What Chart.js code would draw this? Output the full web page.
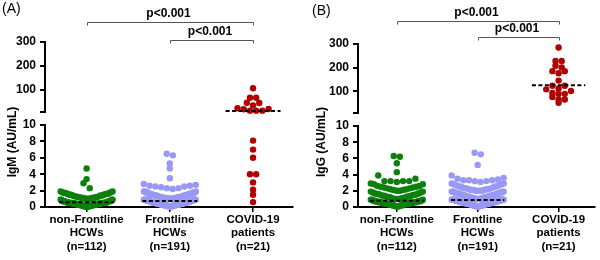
<!DOCTYPE html>
<html>
<head>
<meta charset="utf-8">
<script src="https://cdn.jsdelivr.net/npm/chart.js@4.4.0/dist/chart.umd.min.js"></script>
<style>
  body { margin: 0; background: #fff; width: 600px; height: 260px; overflow: hidden; position: relative; font-family: "Liberation Sans", Arial, sans-serif; }
  canvas { position: absolute; top: 0; }
  #chartA { left: 0; }
  #chartB { left: 300px; }
  .tag { position: absolute; font-size: 14px; color: #000; }
</style>
</head>
<body>
<canvas id="chartA" width="300" height="260"></canvas>
<canvas id="chartB" width="300" height="260"></canvas>
<div class="tag" style="left:2px; top:0px">(A)</div>
<div class="tag" style="left:312px; top:2px">(B)</div>
<script>
const groupLabels = [
    ['non-Frontline', 'HCWs', '(n=112)'],
    ['Frontline', 'HCWs', '(n=191)'],
    ['COVID-19', 'patients', '(n=21)']
];
const lowTicks = [0, 2, 4, 6, 8, 10];
const highTicks = [10, 100, 200, 300]; // 10 is the break, left unlabelled
const breakAt = 10;
const colors = ['#0c800c', '#9999f5', '#b00000'];
const pLabel = 'p<0.001';
const brackets = [[0, 2], [1, 2]];

// IgM, panel (A)
const igmNonFrontline = [
    0.1, 0.1, 0.1, 0.1, 0.1, 0.1, 0.1, 0.1, 0.1, 0.1,
    0.2, 0.2, 0.2, 0.2, 0.2, 0.2, 0.2, 0.2, 0.2, 0.2,
    0.3, 0.3, 0.3, 0.3, 0.3, 0.3, 0.3, 0.3, 0.3, 0.3,
    0.4, 0.4, 0.4, 0.4, 0.4, 0.4, 0.4, 0.4, 0.4, 0.4, 0.4, 0.4,
    0.5, 0.5, 0.5, 0.5, 0.5, 0.5, 0.5, 0.5, 0.5, 0.5, 0.5, 0.5, 0.5, 0.5,
    0.6, 0.6, 0.6, 0.6, 0.6, 0.6, 0.6,
    0.7, 0.7, 0.7, 0.7, 0.7, 0.7,
    0.8, 0.8, 0.8, 0.8, 0.9, 0.9, 0.9, 0.9,
    1.0, 1.0, 1.0, 1.0, 1.1, 1.1, 1.1, 1.1, 1.2, 1.2, 1.2, 1.2,
    1.3, 1.3, 1.3, 1.4, 1.4, 1.4, 1.5, 1.5, 1.5, 1.6, 1.6, 1.6,
    1.7, 1.7, 1.7, 1.8, 1.8, 1.9, 1.9,
    2.3, 2.9, 3.4, 4.7
];
const igmFrontline = [
    0.1, 0.1, 0.1, 0.1, 0.1, 0.1, 0.1, 0.1, 0.1, 0.1, 0.1, 0.1,
    0.2, 0.2, 0.2, 0.2, 0.2, 0.2, 0.2, 0.2, 0.2, 0.2, 0.2, 0.2, 0.2, 0.2, 0.2, 0.2,
    0.3, 0.3, 0.3, 0.3, 0.3, 0.3, 0.3, 0.3, 0.3, 0.3, 0.3, 0.3, 0.3, 0.3, 0.3, 0.3,
    0.4, 0.4, 0.4, 0.4, 0.4, 0.4, 0.4, 0.4, 0.4, 0.4, 0.4, 0.4, 0.4, 0.4, 0.4, 0.4,
    0.5, 0.5, 0.5, 0.5, 0.5, 0.5, 0.5, 0.5, 0.5, 0.5, 0.5, 0.5, 0.5, 0.5, 0.5, 0.5,
    0.6, 0.6, 0.6, 0.6, 0.6, 0.6, 0.6, 0.6, 0.6, 0.6, 0.6, 0.6, 0.6, 0.6,
    0.7, 0.7, 0.7, 0.7, 0.7, 0.7,
    0.8, 0.8, 0.8, 0.8, 0.8, 0.8, 0.8, 0.8, 0.8, 0.8, 0.8, 0.8, 0.8,
    0.9, 0.9, 0.9, 0.9, 0.9, 0.9, 0.9, 0.9, 0.9, 0.9, 0.9, 0.9,
    1.0, 1.0, 1.0, 1.0, 1.0, 1.0, 1.0, 1.0, 1.1, 1.1, 1.1, 1.1, 1.1, 1.1, 1.1,
    1.2, 1.2, 1.2, 1.2, 1.2, 1.2, 1.2, 1.3, 1.3, 1.3, 1.3, 1.3, 1.3,
    1.4, 1.4, 1.4, 1.4, 1.4, 1.4, 1.5, 1.5, 1.5, 1.5, 1.5, 1.6, 1.6, 1.6, 1.6, 1.6,
    1.7, 1.7, 1.7, 1.7, 1.8, 1.8, 1.8, 1.8, 1.9, 1.9, 1.9,
    2.2, 2.3, 2.3, 2.4, 2.5, 2.5, 2.6, 2.6, 2.7, 2.8,
    3.5, 4.7, 5.3, 6.3, 6.5
];
const igmCovid = [0.6, 1.5, 2.1, 3.0, 4.0, 4.0, 6.0, 7.0, 8.1, 14, 14, 14, 20, 21, 24, 36, 46, 47, 68, 68, 107];
const igmMedians = [0.57, 0.73, 12];

// IgG, panel (B)
const iggNonFrontline = [
    0.1, 0.1, 0.1, 0.1, 0.1, 0.2, 0.2, 0.2, 0.2, 0.2, 0.2,
    0.3, 0.3, 0.3, 0.3, 0.3, 0.3, 0.3, 0.4, 0.4, 0.4, 0.4, 0.4, 0.4, 0.4,
    0.5, 0.5, 0.5, 0.5, 0.5, 0.5, 0.5, 0.5, 0.6, 0.6, 0.6, 0.6, 0.6, 0.6, 0.6, 0.6,
    0.7, 0.7, 0.7, 0.7, 0.7, 0.7, 0.7, 0.7, 0.8, 0.8, 0.8, 0.8, 0.9, 0.9, 0.9,
    1.0, 1.0, 1.0, 1.0, 1.1, 1.1, 1.1, 1.2, 1.2, 1.2, 1.3, 1.3, 1.3, 1.4, 1.4, 1.4,
    1.5, 1.5, 1.5, 1.6, 1.6, 1.6, 1.7, 1.7, 1.8, 1.8, 1.9, 1.9,
    2.0, 2.0, 2.1, 2.1, 2.2, 2.2, 2.3, 2.3, 2.4, 2.4, 2.5, 2.5, 2.6, 2.6, 2.8, 2.8, 2.9,
    3.1, 3.2, 3.2, 3.2, 3.2, 3.5, 3.9,
    4.3, 5.4, 6.2, 6.3
];
const iggFrontline = [
    0.1, 0.1, 0.1, 0.1, 0.1, 0.1, 0.1, 0.1,
    0.2, 0.2, 0.2, 0.2, 0.2, 0.2, 0.2, 0.2, 0.2, 0.2,
    0.3, 0.3, 0.3, 0.3, 0.3, 0.3, 0.3, 0.3, 0.3, 0.3,
    0.4, 0.4, 0.4, 0.4, 0.4, 0.4, 0.4, 0.4, 0.4, 0.4, 0.4,
    0.5, 0.5, 0.5, 0.5, 0.5, 0.5, 0.5, 0.5, 0.5, 0.5, 0.5,
    0.6, 0.6, 0.6, 0.6, 0.6, 0.6, 0.6, 0.6, 0.6, 0.6, 0.6,
    0.7, 0.7, 0.7, 0.7, 0.7, 0.7, 0.7, 0.7, 0.7, 0.7, 0.7,
    0.8, 0.8, 0.8, 0.8, 0.8, 0.8, 0.8, 0.8, 0.8, 0.8,
    0.9, 0.9, 0.9, 0.9, 0.9, 0.9, 0.9, 0.9, 0.9, 0.9, 0.9,
    1.0, 1.0, 1.0, 1.0, 1.0, 1.0, 1.0, 1.1, 1.1, 1.1, 1.1, 1.1, 1.1, 1.1,
    1.2, 1.2, 1.2, 1.2, 1.2, 1.2, 1.2, 1.3, 1.3, 1.3, 1.3, 1.3, 1.3,
    1.4, 1.4, 1.4, 1.4, 1.4, 1.4, 1.5, 1.5, 1.5, 1.5, 1.5, 1.5,
    1.6, 1.6, 1.6, 1.6, 1.6, 1.6, 1.7, 1.7, 1.7, 1.7, 1.7,
    1.8, 1.8, 1.8, 1.8, 1.8, 1.9, 1.9, 1.9, 1.9, 1.9,
    2.0, 2.0, 2.0, 2.0, 2.1, 2.1, 2.1, 2.2, 2.2, 2.2, 2.3, 2.3, 2.3,
    2.4, 2.4, 2.5, 2.5, 2.6, 2.6, 2.7, 2.7, 2.8, 2.8, 2.9, 2.9,
    3.1, 3.2, 3.2, 3.3, 3.3, 3.3, 3.4, 3.5, 3.6, 3.9,
    5.2, 6.5, 6.7
];
const iggCovid = [51, 65, 65, 76, 89, 89, 93, 101, 108, 112, 123, 123, 145, 176, 185, 185, 201, 208, 228, 228, 285];
const iggMedians = [0.77, 0.85, 125];

// beeswarm look
const dotGap = 6.2;
const maxHalf = 26;
const topRowPx = 6;

Chart.defaults.font.family = '"Liberation Sans", Arial, sans-serif';
Chart.defaults.color = '#000';

const annotate = {
    id: 'annotate',
    afterDraw(chart, args, o) {
        const { ctx } = chart;
        const x = chart.scales.x;
        ctx.save();
        ctx.fillStyle = '#000';
        ctx.font = 'bold 12px "Liberation Sans", Arial, sans-serif';
        ctx.textAlign = 'center';
        ctx.textBaseline = 'middle';
        ctx.save();
        ctx.translate(o.titleX, o.titleY);
        ctx.rotate(-Math.PI / 2);
        ctx.fillText(o.title, 0, 0);
        ctx.restore();

        ctx.strokeStyle = '#555';
        ctx.lineWidth = 1;
        brackets.forEach(([a, b], i) => {
            const x1 = Math.round(x.getPixelForValue(a)) + 0.5;
            const x2 = Math.round(x.getPixelForValue(b)) + 0.5;
            const y = o.bracketY[i];
            ctx.beginPath();
            ctx.moveTo(x1, y + 3);
            ctx.lineTo(x1, y);
            ctx.lineTo(x2, y);
            ctx.lineTo(x2, y + 3);
            ctx.stroke();
            ctx.fillText(pLabel, (x1 + x2) / 2 - 2, y - 9);
        });
        ctx.restore();
    }
};

function swarm(chart) {
    const xs = chart.scales.x;
    const unit = xs.getPixelForValue(1) - xs.getPixelForValue(0);
    chart.data.datasets.forEach(ds => {
        if (!ds.values) return;
        const sc = chart.scales[ds.yAxisID];
        const rows = {};
        [...ds.values].sort((a, b) => a - b).forEach(v => {
            const r = ds.yAxisID === 'yBot'
                ? Math.floor(v + 1e-6)
                : Math.floor((sc.bottom - sc.getPixelForValue(v)) / topRowPx);
            (rows[r] = rows[r] || []).push(v);
        });
        ds.data = [];
        Object.values(rows).forEach(row => {
            const n = row.length;
            const step = n > 1 ? Math.min(dotGap, 2 * maxHalf / (n - 1)) : 0;
            row.forEach((v, k) => {
                // lowest value in the middle, then right/left outwards
                const slot = n % 2
                    ? (k % 2 ? 1 : -1) * Math.ceil(k / 2)
                    : (k % 2 ? -1 : 1) * (Math.floor(k / 2) + 0.5);
                ds.data.push({ x: ds.group + slot * step / unit, y: v });
            });
        });
    });
    chart.update('none');
}

function makePanel(id, series, medians, title, box) {
    const datasets = [];
    series.forEach((vals, g) => {
        const parts = [['yBot', vals.filter(v => v < breakAt)], ['yTop', vals.filter(v => v >= breakAt)]];
        parts.forEach(([axis, v]) => {
            if (!v.length) return;
            datasets.push({
                type: 'scatter',
                group: g,
                values: v,
                yAxisID: axis,
                data: v.map(y => ({ x: g, y })),
                backgroundColor: colors[g],
                borderWidth: 0,
                pointRadius: 3.2,
                pointHoverRadius: 3.2,
                order: 2,
                clip: false
            });
        });
        const m = medians[g];
        datasets.push({
            type: 'line',
            yAxisID: m < breakAt ? 'yBot' : 'yTop',
            data: [{ x: g - 0.33, y: m }, { x: g + 0.33, y: m }],
            borderColor: '#000',
            borderWidth: 2,
            borderDash: [4, 2.5],
            pointRadius: 0,
            order: 1,
            clip: false
        });
    });

    const tickFont = { weight: 'bold', size: 12 };
    const yGrid = { drawOnChartArea: false, drawTicks: true, tickLength: 5, color: '#000', lineWidth: 2 };
    const yBorder = { color: '#000', width: 2 };

    const chart = new Chart(document.getElementById(id), {
        type: 'scatter',
        data: { datasets },
        options: {
            responsive: false,
            animation: false,
            devicePixelRatio: 1,
            layout: { padding: { top: box.top, right: box.right, left: 0, bottom: 0 } },
            plugins: {
                legend: { display: false },
                tooltip: { enabled: false },
                annotate: { title, titleX: box.titleX, titleY: 142, bracketY: box.bracketY }
            },
            scales: {
                x: {
                    type: 'linear',
                    min: box.xMin,
                    max: box.xMax,
                    afterFit: s => { s.height = 53; },
                    afterBuildTicks: s => { s.ticks = groupLabels.map((_, i) => ({ value: i })); },
                    ticks: {
                        callback: v => groupLabels[v],
                        color: '#000',
                        font: { weight: 'bold', size: 11.5, lineHeight: 1.17 },
                        padding: 1,
                        maxRotation: 0,
                        autoSkip: false
                    },
                    grid: { drawOnChartArea: false, drawTicks: true, tickLength: 5, color: '#000', lineWidth: 1.5 },
                    border: { color: '#000', width: 2 }
                },
                yTop: {
                    type: 'linear',
                    position: 'left',
                    stack: 'y',
                    weight: 3,
                    stackWeight: box.hTop,
                    min: breakAt,
                    max: 300,
                    afterFit: s => { s.width = box.left; },
                    afterBuildTicks: s => { s.ticks = highTicks.map(value => ({ value })); },
                    ticks: { callback: v => (v === breakAt ? '' : v), color: '#000', font: tickFont, padding: 4, autoSkip: false },
                    grid: yGrid,
                    border: yBorder
                },
                yGap: {
                    type: 'linear',
                    position: 'left',
                    stack: 'y',
                    weight: 2,
                    stackWeight: box.hGap,
                    min: 0,
                    max: 1,
                    afterFit: s => { s.width = box.left; },
                    ticks: { display: false },
                    grid: { display: false },
                    border: { display: false }
                },
                yBot: {
                    type: 'linear',
                    position: 'left',
                    stack: 'y',
                    weight: 1,
                    stackWeight: box.hBot,
                    min: 0,
                    max: breakAt,
                    afterFit: s => { s.width = box.left; },
                    afterBuildTicks: s => { s.ticks = lowTicks.map(value => ({ value })); },
                    ticks: { color: '#000', font: tickFont, padding: 4, autoSkip: false },
                    grid: yGrid,
                    border: yBorder
                }
            }
        },
        plugins: [annotate]
    });
    swarm(chart);
    return chart;
}

makePanel('chartA', [igmNonFrontline, igmFrontline, igmCovid], igmMedians, 'IgM (AU/mL)', {
    left: 45, right: 7, top: 42, xMin: -0.5, xMax: 2.48,
    hTop: 69.6, hGap: 13.4, hBot: 82, titleX: 13, bracketY: [22.5, 40.5]
});
makePanel('chartB', [iggNonFrontline, iggFrontline, iggCovid], iggMedians, 'IgG (AU/mL)', {
    left: 58, right: 5, top: 44, xMin: -0.48, xMax: 2.45,
    hTop: 68.5, hGap: 13.5, hBot: 81, titleX: 22, bracketY: [21.5, 37.5]
});
</script>
</body>
</html>
